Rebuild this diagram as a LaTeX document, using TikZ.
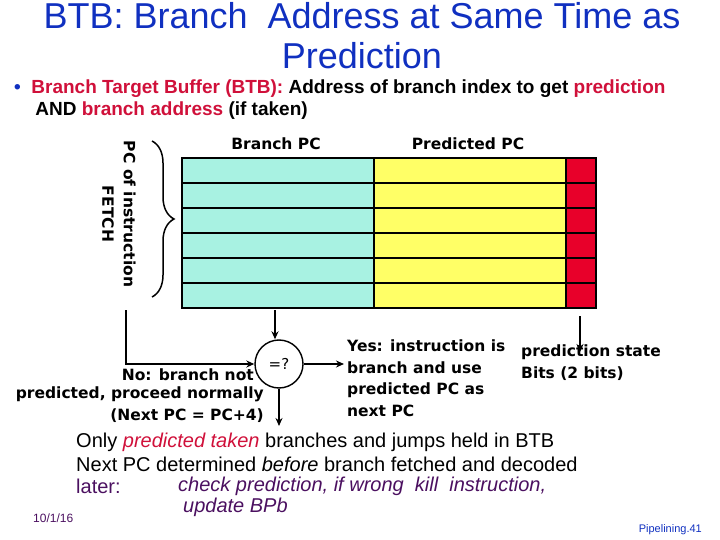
\documentclass[tikz,border=0pt]{standalone}
\usepackage{fontspec}
\setmainfont{Liberation Sans}
\newfontfamily\comic{DejaVu Sans}
\usetikzlibrary{decorations.pathreplacing,arrows.meta}
\definecolor{cy}{HTML}{A8F2E2}
\definecolor{ye}{HTML}{FFFF66}
\definecolor{rd}{HTML}{E8002A}
\definecolor{rt}{HTML}{D0103A}
\definecolor{pu}{HTML}{4B1060}
\definecolor{bl}{HTML}{1030C0}
\tikzset{
  cell/.style={draw=black,line width=1.6pt},
  lbl/.style={font=\comic\bfseries\fontsize{15.5}{21.5}\selectfont,inner sep=0pt},
  body/.style={font=\fontsize{20}{22}\selectfont,inner sep=0pt,anchor=west},
  conn/.style={line width=1.4pt,-{Stealth[length=8pt,width=7pt]}},
}
\begin{document}
\begin{tikzpicture}[x=1pt,y=-1pt]
\useasboundingbox (0,0) rectangle (720,540);
\node[font=\fontsize{36}{40}\selectfont,text=bl,align=center,inner sep=0pt] (title) at (362,36) {BTB: Branch\ \ Address at Same Time as\\Prediction};
\node[font=\bfseries\fontsize{19}{21.5}\selectfont,align=left,anchor=north west,inner sep=0pt] (bul) at (14,80) {\textcolor{bl}{\textbullet}\ \ \textcolor{rt}{Branch Target Buffer (BTB):} Address of branch index to get \textcolor{rt}{prediction}\\\ \ \ \ AND \textcolor{rt}{branch address} (if taken)};
% table
\foreach \i in {0,...,5}{
  \fill[cy] (182,158+\i*25) rectangle (374,183+\i*25);
  \fill[ye] (374,158+\i*25) rectangle (566,183+\i*25);
  \fill[rd] (566,158+\i*25) rectangle (596,183+\i*25);
  \draw[cell] (182,158+\i*25) rectangle (596,183+\i*25);
}
\draw[cell] (374,158) -- (374,308) (566,158) -- (566,308);
\node[lbl] (bpc) at (276,144) {Branch PC};
\node[lbl] (ppc) at (468,144) {Predicted PC};
\coordinate (tbot) at (275,310);
\coordinate (rbot) at (580,316);
% brace
\draw[line width=1.5pt,decorate,decoration={brace,amplitude=22pt}] (152,141) -- (152,297);
\node[lbl,rotate=-90,align=center] (pcf) at (119,214) {PC of instruction\\FETCH};
% comparator
\node[draw,circle,line width=1.4pt,minimum size=48pt,inner sep=0pt,font=\comic\fontsize{15}{17}\selectfont] (cmp) at (279,364) {=?};
\coordinate (lstart) at (126,310);
\coordinate (down) at (279,426);
\coordinate (yes) at (344,364);
\coordinate (pbits) at (580,352);
\draw[conn] (tbot) -- (cmp.north -| tbot);
\draw[conn] (lstart) |- (cmp.west);
\draw[conn] (cmp.south) -- (down);
\draw[conn] (cmp.east) -- (yes);
\draw[conn] (rbot) -- (pbits);
\node[lbl,anchor=east] (no1) at (254,375) {No: branch not};
\node[lbl,align=right,anchor=north east] (no) at (264,387) {predicted, proceed normally\\(Next PC = PC+4)};
\node[lbl,align=left,anchor=north west] (yt) at (347,340) {Yes: instruction is\\branch and use\\predicted PC as\\next PC};
\node[lbl,align=left,anchor=north west] (pb) at (521,345) {prediction state\\Bits (2 bits)};
% lower text
\node[body] (l1) at (76,442) {Only \textcolor{rt}{\itshape predicted taken} branches and jumps held in BTB};
\node[body] (l2) at (76,464) {Next PC determined \textit{before} branch fetched and decoded};
\node[body,text=pu] (l3) at (76,486) {later:};
\node[body,text=pu] (l4) at (178,486) {\itshape check prediction, if wrong\ \ kill\ \ instruction,};
\node[body,text=pu] (l5) at (183,507) {\itshape update BPb};
\node[font=\fontsize{12}{13}\selectfont,text=pu,anchor=west,inner sep=0pt] (date) at (33,518) {10/1/16};
\node[font=\fontsize{11}{12}\selectfont,text=bl,anchor=east,inner sep=0pt] (pg) at (702,530) {Pipelining.41};
\end{tikzpicture}
\end{document}
